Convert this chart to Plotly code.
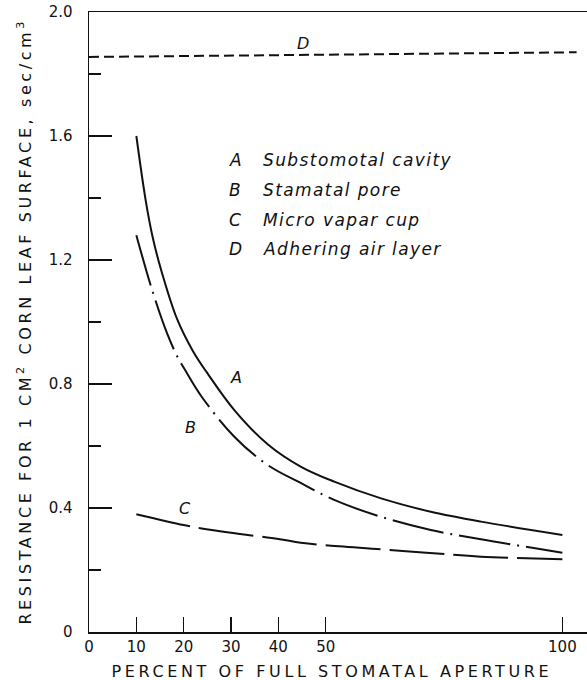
import plotly.graph_objects as go

# ---- data ----
x_A = [10, 12, 13.5, 15.2, 18.6, 22, 25, 30.7, 37.8, 44.8, 51.8, 61.7, 72.2, 82.8, 100]
A = [1.60, 1.39, 1.27, 1.17, 1.01, 0.905, 0.835, 0.716, 0.605, 0.533, 0.485, 0.431, 0.388, 0.356, 0.313]

x_B = [10, 13.4, 16.5, 18.6, 20.3, 23.8, 30.7, 37.7, 44.8, 51.8, 61.6, 72.2, 82.8, 100]
B = [1.28, 1.10, 0.963, 0.89, 0.845, 0.759, 0.630, 0.539, 0.480, 0.426, 0.372, 0.329, 0.299, 0.256]

x_C = [10, 20, 23.5, 30, 40, 44.7, 50, 61.6, 72, 82.8, 100]
C = [0.38, 0.345, 0.335, 0.320, 0.300, 0.288, 0.280, 0.267, 0.255, 0.243, 0.235]

x_D = [0, 103]
D = [1.855, 1.87]

x_ticks = [0, 10, 20, 30, 40, 50, 100]
x_tick_labels = ["0", "10", "20", "30", "40", "50", "100"]
y_ticks = [0, 0.4, 0.8, 1.2, 1.6, 2.0]
y_tick_labels = ["0", "0.4", "0.8", "1.2", "1.6", "2.0"]
y_minor = [0.2, 0.6, 1.0, 1.4, 1.8]

curve_labels = ["A", "B", "C", "D"]
curve_label_x = [31.1, 21.4, 20.3, 45.1]
curve_label_y = [0.82, 0.66, 0.40, 1.90]

key_letters = ["A", "B", "C", "D"]
key_texts = ["Substomotal cavity", "Stamatal pore", "Micro vapar cup", "Adhering air layer"]
key_y = [1.523, 1.426, 1.329, 1.235]

x_title = "PERCENT OF FULL STOMATAL APERTURE"
y_title = "RESISTANCE FOR 1 CM<sup>2</sup> CORN LEAF SURFACE, sec/cm<sup>3</sup>"

INK = "#111111"
FONT = "DejaVu Sans"

fig = go.Figure()
fig.add_trace(go.Scatter(x=x_A, y=A, mode="lines", line=dict(color=INK, width=2, shape="spline", smoothing=1.0)))
fig.add_trace(go.Scatter(x=x_B, y=B, mode="lines", line=dict(color=INK, width=2, shape="spline", smoothing=1.0, dash="52px,7px,2px,7px")))
fig.add_trace(go.Scatter(x=x_C, y=C, mode="lines", line=dict(color=INK, width=2, shape="spline", smoothing=1.0, dash="55px,9px")))
fig.add_trace(go.Scatter(x=x_D, y=D, mode="lines", line=dict(color=INK, width=2, dash="10px,5px")))

ann = []
for t, xx, yy in zip(curve_labels, curve_label_x, curve_label_y):
    ann.append(dict(x=xx, y=yy, xref="x", yref="y", text=t, showarrow=False,
                    font=dict(family=FONT, size=16, color=INK, style="italic")))
for l, t, yy in zip(key_letters, key_texts, key_y):
    ann.append(dict(x=30.9, y=yy, xref="x", yref="y", text=l, showarrow=False,
                    font=dict(family=FONT, size=17, color=INK, style="italic")))
    ann.append(dict(x=36.4, y=yy, xref="x", yref="y", text=t, showarrow=False, xanchor="left",
                    font=dict(family=FONT, size=17, color=INK, style="italic")))
ann.append(dict(x=0.488, y=-0.063, xref="paper", yref="paper", text=x_title, showarrow=False,
                xanchor="center", yanchor="middle",
                font=dict(family=FONT, size=16, color=INK)))
ann.append(dict(x=0, y=0.5, xref="paper", yref="paper", text=y_title, showarrow=False,
                xanchor="center", yanchor="middle", xshift=-65, textangle=-90,
                font=dict(family=FONT, size=16, color=INK)))

fig.update_layout(
    width=587, height=680,
    margin=dict(l=89, r=0, t=12, b=48),
    paper_bgcolor="white", plot_bgcolor="white",
    showlegend=False,
    annotations=ann,
    xaxis=dict(range=[0, 105.2], tickvals=x_ticks, ticktext=x_tick_labels, automargin=False,
               ticks="inside", ticklen=15, tickwidth=1.5, tickcolor=INK,
               showline=True, linecolor=INK, linewidth=1.5, mirror=True,
               showgrid=False, zeroline=False, ticklabelstandoff=0,
               tickfont=dict(family=FONT, size=15, color=INK)),
    yaxis=dict(range=[0, 2.0], tickvals=y_ticks, ticktext=y_tick_labels, automargin=False,
               ticks="inside", ticklen=23, tickwidth=1.5, tickcolor=INK,
               showline=True, linecolor=INK, linewidth=1.5,
               showgrid=False, zeroline=False, ticklabelstandoff=12,
               minor=dict(tickvals=y_minor, ticks="inside", ticklen=12, tickwidth=1.5, tickcolor=INK),
               tickfont=dict(family=FONT, size=15, color=INK)),
)

post = """
document.body.style.margin = '0';
document.body.style.padding = '0';
var gd = document.getElementById('{plot_id}');
function spaceText(){
  gd.querySelectorAll('.annotation-text').forEach(function(t){
    if (t.dataset.spaced) return;
    var s = t.textContent;
    if (s.indexOf('PERCENT') === 0) { t.style.letterSpacing = '3.6px'; }
    else if (s.indexOf('RESISTANCE') === 0) { t.style.letterSpacing = '3.6px'; }
    else if (s.length > 3) {
      var before = t.getBBox().x;
      t.style.letterSpacing = '1.4px';
      var after = t.getBBox().x;
      var x0 = parseFloat(t.getAttribute('x') || '0');
      t.setAttribute('x', x0 + (before - after));
    }
    t.dataset.spaced = '1';
  });
}
spaceText();
"""

fig.write_html("out.html", post_script=post, config={"displayModeBar": False, "staticPlot": True})
